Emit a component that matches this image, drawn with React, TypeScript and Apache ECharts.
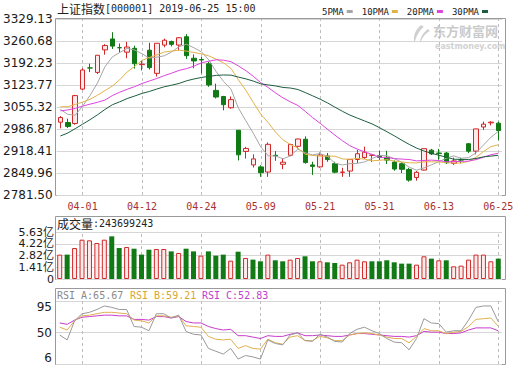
import { useEffect, useRef } from "react";
import * as echarts from "echarts";

const dates = ["03-27","03-28","03-29","04-01","04-02","04-03","04-04","04-08","04-09","04-10","04-11","04-12","04-15","04-16","04-17","04-18","04-19","04-22","04-23","04-24","04-25","04-26","04-29","04-30","05-06","05-07","05-08","05-09","05-10","05-13","05-14","05-15","05-16","05-17","05-20","05-21","05-22","05-23","05-24","05-27","05-28","05-29","05-30","05-31","06-03","06-04","06-05","06-06","06-10","06-11","06-12","06-13","06-14","06-17","06-18","06-19","06-20","06-21","06-24","06-25"];

const opens = [3008,3007,3004,3111,3177,3163,3233,3267,3240,3226,3238,3187,3232,3160,3248,3259,3248,3274,3207,3203,3190,3107,3088,3053,2983,2917,2875,2869,2853,2905,2877,2905,2933,2955,2875,2869,2903,2879,2852,2856,2892,2898,2905,2904,2899,2884,2879,2861,2836,2859,2921,2912,2912,2880,2891,2941,2918,2993,3006,3005];
const closes = [3022.72,2994.94,3090.76,3170.36,3176.82,3216.30,3246.57,3244.81,3239.66,3241.93,3189.96,3188.63,3177.79,3253.60,3263.12,3250.20,3270.80,3215.04,3198.59,3201.61,3123.83,3086.40,3062.50,3078.34,2906.46,2926.39,2893.76,2850.95,2939.21,2903.71,2883.61,2938.68,2955.71,2882.30,2870.60,2905.97,2891.70,2852.52,2852.99,2892.38,2909.91,2914.70,2905.81,2898.70,2890.08,2862.28,2861.42,2827.80,2852.13,2925.72,2909.38,2910.74,2881.97,2887.62,2890.16,2917.80,2987.12,3001.98,3008.15,2982.07];
const highs = [3027,3019,3093,3176,3190,3217,3251,3288,3253,3258,3246,3200,3255,3254,3268,3262,3273,3282,3219,3211,3196,3128,3090,3088,2983,2931,2908,2874,2945,2918,2896,2941,2957,2964,2885,2914,2912,2885,2866,2893,2922,2932,2907,2919,2919,2889,2883,2866,2856,2926,2925,2925,2915,2898,2897,2943,2988,3010,3011,3010];
const lows = [2989,2990,3000,3108,3164,3158,3218,3236,3225,3207,3175,3169,3172,3150,3241,3244,3231,3205,3176,3160,3118,3082,3045,3050,2889,2895,2867,2838,2838,2888,2862,2902,2926,2879,2844,2866,2885,2849,2838,2838,2881,2894,2884,2890,2878,2857,2850,2823,2826,2858,2906,2891,2878,2875,2880,2912,2908,2984,2998,2952];

const ma5 = [3048,3032.4,3029.7,3058,3091.1,3129.8,3180.2,3211.0,3224.8,3237.9,3232.6,3221.0,3207.6,3210.4,3214.6,3226.7,3243.1,3250.6,3239.6,3227.2,3202.0,3165.1,3134.6,3110.5,3051.5,3012.0,2973.5,2931.2,2903.4,2902.8,2894.2,2903.2,2924.2,2912.8,2906.2,2910.7,2901.3,2880.6,2874.8,2879.1,2879.9,2884.5,2895.2,2904.3,2903.8,2894.3,2883.7,2868.1,2858.7,2865.9,2875.3,2885.2,2896.0,2903.1,2896.0,2897.7,2912.9,2936.9,2961.0,2979.4];
const ma10 = [3055.9,3056.3,3063.2,3070.6,3079.2,3091.8,3106.3,3120.3,3140.0,3164.5,3181.2,3200.6,3209.3,3217.6,3226.2,3229.6,3232.1,3229.1,3225.0,3220.9,3214.3,3204.1,3192.6,3175.0,3139.4,3107.0,3069.3,3032.9,3006.9,2977.2,2953.1,2938.4,2927.7,2908.1,2904.5,2902.5,2902.2,2902.4,2893.8,2892.6,2895.3,2892.9,2887.9,2889.5,2891.5,2887.1,2884.1,2881.6,2881.5,2884.9,2884.8,2884.4,2882.0,2880.9,2880.9,2886.5,2899.0,2916.5,2932.1,2937.7];
const ma20 = [3043.4,3046.1,3051.0,3058.1,3064.2,3069.9,3076.9,3090.7,3101.3,3110.4,3118.6,3128.4,3136.3,3144.1,3152.7,3160.7,3169.2,3174.7,3182.5,3192.7,3197.8,3202.3,3200.9,3196.3,3182.8,3168.3,3150.7,3131.0,3116.0,3099.0,3083.7,3071.2,3060.1,3041.6,3021.9,3004.7,2985.8,2967.6,2950.4,2934.9,2924.2,2915.6,2907.8,2898.8,2898.0,2894.8,2893.2,2892.0,2887.7,2888.8,2890.0,2888.6,2885.0,2885.2,2886.2,2886.8,2891.6,2899.0,2906.8,2911.3];
const ma30 = [2965.1,2974.3,2987.9,3001.8,3015.8,3031.0,3047.5,3062.2,3071.5,3081.5,3089.3,3097.6,3103.7,3111.3,3118.2,3123.2,3128.6,3136.8,3142.5,3147.2,3150.5,3153.7,3155.0,3154.4,3148.3,3142.8,3135.9,3127.4,3124.0,3120.9,3116.2,3114.3,3109.8,3100.2,3090.0,3079.7,3067.9,3054.8,3041.9,3030.2,3020.9,3011.8,3002.7,2990.9,2978.4,2965.5,2951.9,2939.0,2927.4,2918.2,2911.1,2905.2,2899.2,2892.8,2892.3,2892.0,2895.1,2900.2,2902.5,2905.1];

// volume in 亿 (1e8 shares)
const volumes = [2.92,2.92,3.71,4.71,4.63,4.31,4.71,5.11,3.71,3.83,3.63,2.92,3.51,3.59,3.59,3.31,3.12,3.63,3.31,2.80,3.31,2.80,2.92,2.20,3.27,2.52,2.32,2.12,2.92,2.24,2.12,2.32,2.52,2.72,2.12,2.12,2.00,1.92,1.72,2.00,2.32,2.12,2.12,2.12,2.24,2.00,1.84,1.84,1.72,2.72,2.44,2.24,2.24,1.52,1.60,2.32,2.92,2.92,2.12,2.437];
const volumeUp = [1,0,1,1,1,1,1,0,0,1,0,0,0,1,1,0,1,0,0,1,0,0,0,1,0,1,0,0,1,0,0,1,1,0,0,1,0,0,1,1,1,1,0,0,0,0,0,0,1,1,0,1,0,1,1,1,1,1,1,0];

const rsiA = [47,40,67,77,79,83,88,86,83,83,59,58,53,77,77,71,75,52,48,47,28,24,20,28,13,18,16,13,40,35,33,47,50,39,38,48,44,38,37,49,55,58,53,49,42,37,36,26,42,70,64,63,51,53,53,68,86,88,88,65.67];
const rsiB = [58,54,67,74,75,77,79,79,78,77,68,67,64,74,74,72,74,60,59,58,45,41,40,41,28,32,28,27,41,36,34,44,46,39,39,45,43,39,39,47,49,50,49,47,44,42,42,36,45,56,53,53,49,51,52,59,69,70,71,59.21];
const rsiC = [64,62,68,72,73,74,75,75,74,74,69,69,68,73,73,71,73,66,64,64,59,56,54,55,46,46,44,42,46,45,45,48,50,46,46,47,46,45,45,47,49,49,48,47,46,45,45,44,46,52,51,51,49,49,50,54,57,57,57,52.83];

const priceTicks = ["2781.50","2849.96","2918.41","2986.87","3055.32","3123.77","3192.23","3260.68","3329.13"];
const volumeTicks = ["0","1.41亿","2.82亿","4.22亿","5.63亿"];
const rsiTicks = ["6","50","95"];

const PRICE_MIN = 2781.5;
const PRICE_MAX = 3329.13;
const VOL_MAX = 5.63;
const RSI_MIN = 6;
const RSI_MAX = 95;

const UP = "#d02828";
const UP_FILL = "#fdeaea";
const DOWN = "#117a14";
const MA_COLORS = ["#a6a6a6", "#e2b24a", "#dc44dc", "#1d5e3e"];
const RSI_COLORS = ["#999999", "#e0b050", "#c83ccc"];

echarts.graphic.registerShape(
  "logo",
  echarts.graphic.extendPath(
    "M12 0 C6 4 2 10 4 18 C6 12 9 6 15 2 Z M20 4 C14 8 10 13 11 18 C13 13 16 9 22 6 Z",
    {}
  )
);

const isLabelIdx = (idx: number) => idx % 8 === 3;
const labelDates = dates.filter((_, i) => isLabelIdx(i));

const MONO = "DejaVu Sans Mono";
const SANS = "DejaVu Sans, Noto Sans CJK SC";
const CJK = "Noto Sans CJK SC";

function buildOption() {
  const gridLeft = 56;
  const gridWidth = 446;
  const splitColor = "#d6d6d6";
  const vLines = {
    z: 1,
    silent: true,
    symbol: ["none", "none"],
    label: { show: false },
    lineStyle: { type: [3, 3], color: "#bdbdbd", width: 1 },
    emphasis: { disabled: true },
    data: labelDates.map((d) => ({ xAxis: d })),
  };
  const pStep = (PRICE_MAX - PRICE_MIN) / 8;
  const vStep = VOL_MAX / 4;
  const rStep = (RSI_MAX - RSI_MIN) / 2;

  const xAxisBase = (gi: number) => ({
    type: "category",
    gridIndex: gi,
    data: dates,
    boundaryGap: true,
    axisLine: { show: false },
    axisTick: { show: false },
    splitLine: { show: false },
    axisLabel:
      gi === 0
        ? { show: true, interval: (idx: number) => isLabelIdx(idx), color: "#a83030", fontFamily: MONO, fontSize: 10, margin: 6 }
        : { show: false },
  });

  const maNames = ["5PMA", "10PMA", "20PMA", "30PMA"];
  const maData = [ma5, ma10, ma20, ma30];

  return {
    animation: false,
    backgroundColor: "#ffffff",
    legend: {
      data: maNames,
      right: 27,
      top: 2,
      align: "right",
      icon: "rect",
      itemWidth: 6,
      itemHeight: 3,
      itemGap: 9,
      selectedMode: false,
      textStyle: { fontFamily: MONO, fontSize: 9, color: "#222", padding: [0, -2, 0, 0] },
    },
    grid: [
      { left: gridLeft, width: gridWidth, top: 19, height: 176 },
      { left: gridLeft, width: gridWidth, top: 232, height: 47 },
      { left: gridLeft, width: gridWidth, top: 301, height: 63 },
    ],
    xAxis: [xAxisBase(0), xAxisBase(1), xAxisBase(2)],
    yAxis: [
      {
        type: "value",
        gridIndex: 0,
        min: PRICE_MIN,
        max: PRICE_MAX,
        interval: pStep,
        axisLine: { show: false },
        axisTick: { show: false },
        splitLine: { lineStyle: { color: splitColor } },
        axisLabel: {
          formatter: (v: number) => priceTicks[Math.round((v - PRICE_MIN) / pStep)] ?? "",
          fontFamily: SANS,
          fontSize: 12,
          color: "#1a1a1a",
          margin: 4,
          showMinLabel: true,
          showMaxLabel: true,
        },
      },
      {
        type: "value",
        gridIndex: 1,
        min: 0,
        max: VOL_MAX,
        interval: vStep,
        axisLine: { show: false },
        axisTick: { show: false },
        splitLine: { lineStyle: { color: splitColor } },
        axisLabel: {
          formatter: (v: number) => volumeTicks[Math.round(v / vStep)] ?? "",
          fontFamily: SANS,
          fontSize: 11,
          lineHeight: 11,
          color: "#1a1a1a",
          margin: 2,
          showMinLabel: true,
          showMaxLabel: true,
          hideOverlap: false,
        },
      },
      {
        type: "value",
        gridIndex: 2,
        min: RSI_MIN,
        max: RSI_MAX,
        interval: rStep,
        axisLine: { show: false },
        axisTick: { show: false },
        splitLine: { lineStyle: { color: splitColor } },
        axisLabel: {
          formatter: (v: number) => rsiTicks[Math.round((v - RSI_MIN) / rStep)] ?? "",
          fontFamily: SANS,
          fontSize: 12,
          color: "#1a1a1a",
          margin: 4,
          showMinLabel: true,
          showMaxLabel: true,
          verticalAlignMinLabel: "bottom",
          verticalAlignMaxLabel: "top",
        },
      },
    ],
    series: [
      {
        type: "candlestick",
        name: "K",
        xAxisIndex: 0,
        yAxisIndex: 0,
        barWidth: 5,
        z: 3,
        data: dates.map((_, i) => [opens[i], closes[i], lows[i], highs[i]]),
        itemStyle: { color: UP_FILL, color0: DOWN, borderColor: UP, borderColor0: DOWN, borderWidth: 1 },
        markLine: vLines,
      },
      ...maData.map((d, k) => ({
        type: "line",
        name: maNames[k],
        xAxisIndex: 0,
        yAxisIndex: 0,
        data: d,
        symbol: "none",
        showSymbol: false,
        z: 4,
        itemStyle: { color: MA_COLORS[k] },
        lineStyle: { color: MA_COLORS[k], width: 1 },
      })),
      {
        type: "bar",
        name: "VOL",
        xAxisIndex: 1,
        yAxisIndex: 1,
        barWidth: 5,
        z: 3,
        data: volumes.map((v, i) => ({
          value: v,
          itemStyle: volumeUp[i]
            ? { color: UP_FILL, borderColor: UP, borderWidth: 1 }
            : { color: DOWN },
        })),
        markLine: vLines,
      },
      ...[rsiA, rsiB, rsiC].map((d, k) => ({
        type: "line",
        name: ["RSI_A", "RSI_B", "RSI_C"][k],
        xAxisIndex: 2,
        yAxisIndex: 2,
        data: d,
        symbol: "none",
        showSymbol: false,
        z: 4 - k,
        itemStyle: { color: RSI_COLORS[k] },
        lineStyle: { color: RSI_COLORS[k], width: 1 },
        markLine: k === 0 ? vLines : undefined,
      })),
    ],
    graphic: [
      { type: "rect", silent: true, shape: { x: 55.5, y: 18.5, width: 450, height: 177 }, style: { fill: "none", stroke: "#9a9a9a", lineWidth: 1 } },
      { type: "rect", silent: true, shape: { x: 55.5, y: 216.5, width: 450, height: 63 }, style: { fill: "none", stroke: "#9a9a9a", lineWidth: 1 } },
      { type: "rect", silent: true, shape: { x: 55.5, y: 288.5, width: 450, height: 76 }, style: { fill: "none", stroke: "#9a9a9a", lineWidth: 1 } },
      { type: "text", left: 57, top: 2, style: { text: "上证指数", font: `12px "${CJK}"`, fill: "#222" } },
      { type: "text", left: 105, top: 3, style: { text: "[000001] 2019-06-25 15:00", font: `10px "${MONO}"`, fill: "#222" } },
      { type: "text", left: 57, top: 217, style: { text: "成交量", font: `12px "${CJK}"`, fill: "#222" } },
      { type: "text", left: 93, top: 218, style: { text: ":243699243", font: `10px "${MONO}"`, fill: "#222" } },
      { type: "text", left: 57, top: 290, style: { text: "RSI_A:65.67", font: `10px "${MONO}"`, fill: "#8a8a8a" } },
      { type: "text", left: 130, top: 290, style: { text: "RSI_B:59.21", font: `10px "${MONO}"`, fill: "#d8a530" } },
      { type: "text", left: 202, top: 290, style: { text: "RSI_C:52.83", font: `10px "${MONO}"`, fill: "#c040c8" } },
      { type: "logo", silent: true, x: 411, y: 25, scaleX: 0.85, scaleY: 1, style: { fill: "#cfcfcf" } },
      { type: "text", left: 433, top: 24, style: { text: "东方财富网", font: `bold 13px "${CJK}"`, fill: "#cacaca" } },
      { type: "text", left: 435, top: 42, style: { text: "eastmoney.com", font: `bold 8px "DejaVu Sans"`, fill: "#d2d2d2" } },
    ],
  };
}

export default function App() {
  const ref = useRef<HTMLDivElement>(null);
  useEffect(() => {
    if (!ref.current) return;
    const chart = echarts.init(ref.current, null, { renderer: "svg" });
    chart.setOption(buildOption() as any);
    return () => chart.dispose();
  }, []);
  return (
    <div
      ref={ref}
      style={{ position: "fixed", left: 0, top: 0, width: 520, height: 365, background: "#fff" }}
    />
  );
}
